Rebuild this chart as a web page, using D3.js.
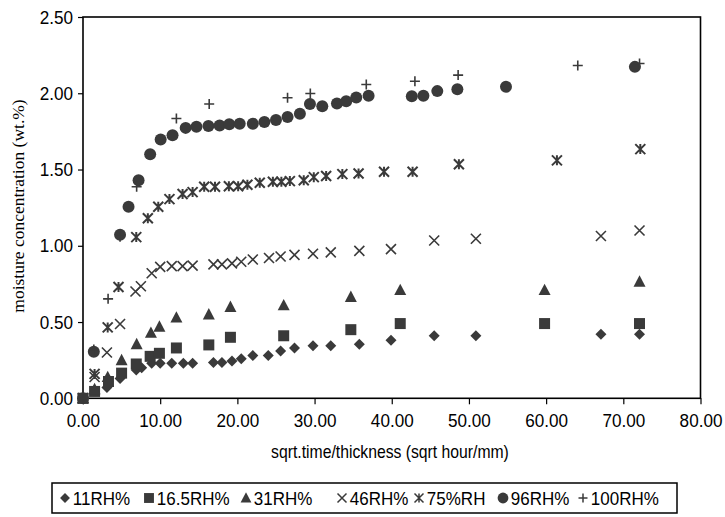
<!DOCTYPE html>
<html>
<head>
<meta charset="utf-8">
<script src="https://cdn.jsdelivr.net/npm/d3@7"></script>
<style>
  body { margin: 0; background: #fff; }
  text { font-family: "Liberation Sans", Arial, sans-serif; }
</style>
</head>
<body>
<div id="chart"></div>
<script>
// tick values
const xTicks = [0, 10, 20, 30, 40, 50, 60, 70, 80];
const yTicks = [0, 0.5, 1.0, 1.5, 2.0, 2.5];

const seriesNames = ["11RH%", "16.5RH%", "31RH%", "46RH%", "75%RH", "96RH%", "100RH%"];

// 11RH% (diamonds)
const rh11X = [0, 3.1, 4.8, 6.9, 7.6, 8.9, 10.0, 11.5, 13.0, 14.2, 16.9, 18.0, 19.3, 20.5, 22.0, 24.0, 25.6, 27.4, 29.8, 32.1, 35.8, 39.9, 45.5, 50.9, 67.1, 72.1];
const rh11Y = [0, 0.07, 0.13, 0.185, 0.2, 0.23, 0.23, 0.23, 0.23, 0.23, 0.235, 0.235, 0.245, 0.26, 0.28, 0.28, 0.31, 0.33, 0.345, 0.345, 0.355, 0.38, 0.41, 0.41, 0.42, 0.42];

// 16.5RH% (squares)
const rh16X = [0, 1.5, 3.3, 5.0, 6.9, 8.7, 9.9, 12.1, 16.3, 19.1, 26.0, 34.7, 41.1, 59.8, 72.1];
const rh16Y = [0, 0.045, 0.11, 0.165, 0.225, 0.275, 0.295, 0.33, 0.35, 0.40, 0.41, 0.45, 0.49, 0.49, 0.49];

// 31RH% (triangles)
const rh31X = [0, 1.5, 3.2, 5.0, 6.95, 8.8, 9.9, 12.1, 16.3, 19.1, 26.0, 34.7, 41.1, 59.8, 72.1];
const rh31Y = [0, 0.06, 0.14, 0.25, 0.355, 0.43, 0.47, 0.53, 0.55, 0.60, 0.61, 0.665, 0.71, 0.71, 0.765];

// 46RH% (x)
const rh46X = [0, 1.5, 3.1, 4.8, 6.8, 7.5, 8.9, 10.0, 11.5, 12.9, 14.2, 16.9, 18.0, 19.3, 20.5, 22.0, 24.1, 25.6, 27.4, 29.8, 32.1, 35.8, 39.9, 45.5, 50.9, 67.1, 72.1];
const rh46Y = [0, 0.14, 0.30, 0.487, 0.70, 0.735, 0.82, 0.862, 0.867, 0.867, 0.87, 0.878, 0.878, 0.885, 0.895, 0.91, 0.92, 0.93, 0.94, 0.948, 0.957, 0.967, 0.978, 1.035, 1.046, 1.064, 1.10];

// 75%RH (asterisk)
const rh75X = [0, 1.5, 3.2, 4.6, 6.9, 8.4, 9.75, 11.2, 12.9, 14.2, 15.7, 17.1, 18.9, 20.1, 21.3, 22.9, 24.6, 25.7, 26.8, 28.6, 29.9, 31.5, 33.6, 35.7, 39.0, 42.7, 48.7, 61.4, 72.2];
const rh75Y = [0, 0.16, 0.465, 0.73, 1.057, 1.18, 1.256, 1.306, 1.34, 1.352, 1.387, 1.387, 1.39, 1.39, 1.40, 1.413, 1.42, 1.42, 1.424, 1.43, 1.45, 1.457, 1.47, 1.474, 1.485, 1.485, 1.535, 1.56, 1.634];

// 96RH% (circles)
const rh96X = [0, 1.4, 4.8, 5.9, 7.2, 8.7, 10.06, 11.6, 13.3, 14.7, 16.25, 17.7, 18.95, 20.3, 22.0, 23.5, 25.0, 26.5, 28.1, 29.4, 31.0, 32.9, 34.1, 35.4, 37.0, 42.6, 44.1, 45.9, 48.5, 54.8, 71.5];
const rh96Y = [0, 0.305, 1.072, 1.256, 1.43, 1.60, 1.697, 1.725, 1.773, 1.78, 1.785, 1.789, 1.797, 1.80, 1.80, 1.812, 1.824, 1.844, 1.865, 1.93, 1.915, 1.933, 1.948, 1.972, 1.983, 1.981, 1.983, 2.014, 2.027, 2.042, 2.173];

// 100RH% (plus)
const rh100X = [0, 1.4, 3.25, 4.8, 6.95, 12.1, 16.35, 26.5, 29.45, 36.7, 43.0, 48.6, 64.1, 72.1];
const rh100Y = [0, 0.32, 0.652, 1.06, 1.387, 1.835, 1.93, 1.971, 1.998, 2.057, 2.079, 2.119, 2.182, 2.195];

const allX = [rh11X, rh16X, rh31X, rh46X, rh75X, rh96X, rh100X];
const allY = [rh11Y, rh16Y, rh31Y, rh46Y, rh75Y, rh96Y, rh100Y];
const markers = ["diamond", "square", "triangle", "cross", "star", "circle", "plus"];

const margin = {top: 17, right: 24.5, bottom: 118.7, left: 83},
    width = 725 - margin.left - margin.right,
    height = 517 - margin.top - margin.bottom;

const ink = "#3a3a3a";

const svg = d3.select("#chart")
    .append("svg")
    .attr("width", 725)
    .attr("height", 517);

const g = svg.append("g")
    .attr("transform", "translate(" + margin.left + "," + margin.top + ")");

const xScale = d3.scaleLinear().domain([0, 80]).range([0, width]);
const yScale = d3.scaleLinear().domain([0, 2.5]).range([height, 0]);

// marker shapes (size in px)
function markerPath(type, s) {
  const h = s / 2;
  switch (type) {
    case "diamond": return `M0,${-h}L${h},0L0,${h}L${-h},0Z`;
    case "square": return `M${-h},${-h}H${h}V${h}H${-h}Z`;
    case "triangle": return `M0,${-h * 1.05}L${h},${h * 0.85}L${-h},${h * 0.85}Z`;
    case "cross": return `M${-h},${-h}L${h},${h}M${-h},${h}L${h},${-h}`;
    case "star": return `M${-h},${-h}L${h},${h}M${-h},${h}L${h},${-h}M0,${-h}V${h}`;
    case "plus": return `M${-h},0H${h}M0,${-h}V${h}`;
    case "circle": return d3.arc()({innerRadius: 0, outerRadius: h, startAngle: 0, endAngle: 2 * Math.PI});
  }
}
const markerSize = {diamond: 11, square: 11, triangle: 12, cross: 10, star: 10, plus: 10, circle: 12};
const isStroke = t => t === "cross" || t === "star" || t === "plus";

// X axis
const xAxis = g.append("g")
    .attr("transform", "translate(0," + height + ")")
    .call(d3.axisBottom(xScale).tickValues(xTicks).tickSize(6).tickPadding(9)
        .tickFormat(d => d.toFixed(2)));

// Y axis
const yAxis = g.append("g")
    .call(d3.axisLeft(yScale).tickValues(yTicks).tickSize(5).tickPadding(5)
        .tickFormat(d => d.toFixed(2)));

[xAxis, yAxis].forEach(ax => {
  ax.select(".domain").remove();
  ax.selectAll("line").attr("stroke", "#000").attr("stroke-width", 1.2);
  ax.selectAll("text").attr("fill", "#000").style("font-size", "19px")
      .style("font-family", "'Liberation Sans', Arial, sans-serif");
});
// narrow, tall tick labels like the original
xAxis.selectAll("text").attr("transform", "scale(0.9,1)");
yAxis.selectAll("text").attr("x", -11).attr("transform", "scale(0.9,1)");

// plot frame
g.append("rect")
    .attr("width", width)
    .attr("height", height)
    .attr("fill", "none")
    .attr("stroke", "#000")
    .attr("stroke-width", 1.6);

// points
allX.forEach((xs, i) => {
  const type = markers[i];
  const pts = xs.map((x, j) => ({x: x, y: allY[i][j]}));
  g.append("g")
      .selectAll("path")
      .data(pts)
      .enter()
      .append("path")
      .attr("transform", d => "translate(" + xScale(d.x) + "," + yScale(d.y) + ")")
      .attr("d", markerPath(type, markerSize[type]))
      .attr("fill", isStroke(type) ? "none" : ink)
      .attr("stroke", isStroke(type) ? ink : "none")
      .attr("stroke-width", type === "star" ? 2 : 1.6);
});

// axis titles
svg.append("text")
    .attr("x", 390)
    .attr("y", 458)
    .attr("text-anchor", "middle")
    .style("font-size", "17.5px")
    .attr("transform", "translate(39,0) scale(0.9,1)")
    .text("sqrt.time/thickness (sqrt hour/mm)");

svg.append("text")
    .attr("transform", "translate(24,206) rotate(-90)")
    .attr("text-anchor", "middle")
    .style("font-family", "'Liberation Serif', 'Times New Roman', serif")
    .style("font-size", "17.5px")
    .text("moisture concentration (wt.%)");

// legend
const legendX = [65, 149, 246, 342, 419, 503, 583];
const legend = svg.append("g");
legend.append("rect")
    .attr("x", 52)
    .attr("y", 483)
    .attr("width", 625)
    .attr("height", 30)
    .attr("fill", "#fff")
    .attr("stroke", "#000")
    .attr("stroke-width", 1.5);

seriesNames.forEach((name, i) => {
  const type = markers[i];
  const item = legend.append("g").attr("transform", "translate(" + legendX[i] + ",498)");
  item.append("path")
      .attr("d", markerPath(type, markerSize[type] * 0.9))
      .attr("fill", isStroke(type) ? "none" : ink)
      .attr("stroke", isStroke(type) ? ink : "none")
      .attr("stroke-width", 1.5);
  item.append("text")
      .attr("x", 8.5)
      .attr("y", 6.5)
      .attr("transform", "scale(0.92,1)")
      .style("font-size", "18.5px")
      .text(name);
});
</script>
</body>
</html>
